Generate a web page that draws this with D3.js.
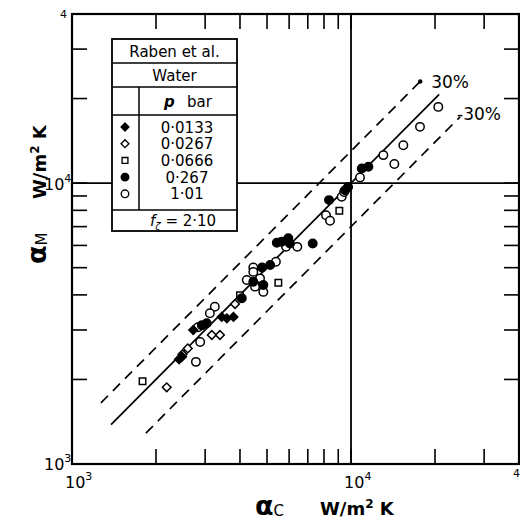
<!DOCTYPE html>
<html>
  <head>
    <meta charset='utf-8' />
    <script src="https://d3js.org/d3.v7.min.js"></script>
    <style>
    body { margin: 0; background: #fff; }
    text { font-family: "DejaVu Sans", sans-serif; fill: #000; }
    </style>
  </head>
  <body>
    <div id="chart"></div>
    <script>
// legend rows (pressure, bar)
var pressures = ["0·0133", "0·0267", "0·0666", "0·267", "1·01"];

// alpha_C / alpha_M, W/m2K
var cDiamondFilled = [3440, 3590, 3790, 2420, 2480, 2720];
var mDiamondFilled = [3340, 3300, 3340, 2360, 2410, 3000];

var cDiamondOpen = [2185, 2490, 2600, 3170, 3390, 3840];
var mDiamondOpen = [1875, 2460, 2580, 2880, 2880, 3710];

var cSquareOpen = [1790, 5490, 9080, 4000];
var mSquareOpen = [1970, 4420, 7970, 3990];

var cCircleFilled = [10930, 11540, 9520, 9760, 8340, 7290, 5420, 5640, 5960, 6040, 4800, 5130, 4465, 4850, 2920, 3040, 4060];
var mCircleFilled = [11280, 11430, 9440, 9680, 8700, 6100, 6130, 6180, 6360, 6100, 5010, 5110, 4455, 4335, 3120, 3170, 3890];

var cCircleOpen = [20550, 17670, 15400, 13060, 14300, 10770, 9260, 9440, 8135, 8410, 5850, 6420, 5380, 4465, 4465, 4230, 4720, 4530, 4850, 3250, 3120, 2830, 2880, 2780];
var mCircleOpen = [18680, 15860, 13650, 12580, 11690, 10480, 8940, 9290, 7690, 7340, 5930, 5930, 5250, 5010, 4830, 4520, 4580, 4280, 4100, 3630, 3440, 3070, 2720, 2310];

// reference lines alpha_M = f * alpha_C
var bandFactor = [1.3, 1, 0.7];
var bandFrom = [1270, 1380, 1840];
var bandTo = [17700, 20700, 24600];
var bandText = ["30%", "", "-30%"];

var axisDomain = [1e3, 4e4];

var width = 520, height = 523;
var svg = d3.select("#chart").append("svg")
    .attr("width", width).attr("height", height);

var x = d3.scaleLog().domain(axisDomain).range([72, 519]);
var y = d3.scaleLog().domain(axisDomain).range([464, 14]);

var ticks = x.ticks().filter(function(d) { return d > axisDomain[0] && d < axisDomain[1]; });

// 10^4 cross lines
svg.append("line").attr("x1", x(1e3)).attr("x2", x(4e4))
  .attr("y1", y(1e4)).attr("y2", y(1e4))
  .attr("stroke", "#000").attr("stroke-width", 1.8);
svg.append("line").attr("x1", x(1e4)).attr("x2", x(1e4))
  .attr("y1", y(1e3)).attr("y2", y(4e4))
  .attr("stroke", "#000").attr("stroke-width", 1.8);

// minor ticks on all four sides, pointing in
var tickLen = 15;
var tk = svg.append("g").attr("stroke", "#000").attr("stroke-width", 1.6);
ticks.forEach(function(t) {
  tk.append("line").attr("x1", x(t)).attr("x2", x(t)).attr("y1", y(1e3)).attr("y2", y(1e3) - tickLen);
  tk.append("line").attr("x1", x(t)).attr("x2", x(t)).attr("y1", y(4e4)).attr("y2", y(4e4) + tickLen);
  tk.append("line").attr("y1", y(t)).attr("y2", y(t)).attr("x1", x(1e3)).attr("x2", x(1e3) + tickLen);
  tk.append("line").attr("y1", y(t)).attr("y2", y(t)).attr("x1", x(4e4)).attr("x2", x(4e4) - tickLen);
});

// frame
svg.append("rect")
  .attr("x", x(1e3)).attr("y", y(4e4))
  .attr("width", x(4e4) - x(1e3)).attr("height", y(1e3) - y(4e4))
  .attr("fill", "none").attr("stroke", "#000").attr("stroke-width", 2.2);

// reference lines
var line = d3.line().x(function(d) { return x(d[0]); }).y(function(d) { return y(d[1]); });
bandFactor.forEach(function(f, i) {
  svg.append("path")
    .attr("d", line([[bandFrom[i], bandFrom[i] * f], [bandTo[i], bandTo[i] * f]]))
    .attr("fill", "none").attr("stroke", "#000").attr("stroke-width", 1.7)
    .attr("stroke-dasharray", f === 1 ? null : "10,7");
});
svg.append("circle").attr("cx", x(bandTo[0])).attr("cy", y(bandTo[0] * bandFactor[0]))
  .attr("r", 2.2).attr("fill", "#000");
svg.append("text").attr("x", x(bandTo[0]) + 11).attr("y", y(bandTo[0] * bandFactor[0]) + 7)
  .style("font-size", "17px").text(bandText[0]);
svg.append("text").attr("x", x(bandTo[2]) - 3).attr("y", y(bandTo[2] * bandFactor[2]) + 3)
  .style("font-size", "17px").text(bandText[2]);

// markers
var diamond = d3.symbol().type(d3.symbolSquare).size(38)();
var square = d3.symbol().type(d3.symbolSquare).size(42)();
var circle = d3.symbol().type(d3.symbolCircle).size(56)();
var styles = [
  {path: diamond, rot: 45, fill: "#000"},
  {path: diamond, rot: 45, fill: "#fff"},
  {path: square, rot: 0, fill: "#fff"},
  {path: circle, rot: 0, fill: "#000"},
  {path: circle, rot: 0, fill: "#fff"}
];
var seriesC = [cDiamondFilled, cDiamondOpen, cSquareOpen, cCircleFilled, cCircleOpen];
var seriesM = [mDiamondFilled, mDiamondOpen, mSquareOpen, mCircleFilled, mCircleOpen];

var pts = svg.append("g");
[4, 2, 1, 3, 0].forEach(function(s) {
  var st = styles[s];
  pts.selectAll(null).data(d3.zip(seriesC[s], seriesM[s])).enter()
    .append("path")
      .attr("d", st.path)
      .attr("transform", function(d) {
        return "translate(" + x(d[0]) + "," + y(d[1]) + ") rotate(" + st.rot + ")";
      })
      .attr("fill", st.fill).attr("stroke", "#000").attr("stroke-width", 1.5);
});

// legend table
var lg = svg.append("g").attr("transform", "translate(112,39)");
var lw = 125, lh = 192;
lg.append("rect").attr("width", lw).attr("height", lh)
  .attr("fill", "#fff").attr("stroke", "#000").attr("stroke-width", 1.8);
[24, 48, 76, 171].forEach(function(yy) {
  lg.append("line").attr("x1", 0).attr("x2", lw).attr("y1", yy).attr("y2", yy)
    .attr("stroke", "#000").attr("stroke-width", 1.5);
});
lg.append("line").attr("x1", 27).attr("x2", 27).attr("y1", 48).attr("y2", 171)
  .attr("stroke", "#000").attr("stroke-width", 1.5);
lg.append("text").attr("x", lw / 2).attr("y", 18).attr("text-anchor", "middle")
  .style("font-size", "15px").text("Raben et al.");
lg.append("text").attr("x", lw / 2).attr("y", 42).attr("text-anchor", "middle")
  .style("font-size", "15px").text("Water");
var ph = lg.append("text").attr("x", 76).attr("y", 68).attr("text-anchor", "middle")
  .style("font-size", "15px");
ph.append("tspan").style("font-style", "italic").style("font-weight", "bold").text("p");
ph.append("tspan").text("\u2002 bar");
pressures.forEach(function(p, i) {
  var yy = 88 + i * 16.7;
  var st = styles[i];
  lg.append("path").attr("d", st.path)
    .attr("transform", "translate(13," + yy + ") rotate(" + st.rot + ") scale(0.9)")
    .attr("fill", st.fill).attr("stroke", "#000").attr("stroke-width", 1.5);
  lg.append("text").attr("x", 75).attr("y", yy + 5.5).attr("text-anchor", "middle")
    .style("font-size", "15px").text(p);
});
var ft = lg.append("text").attr("x", 71).attr("y", 187).attr("text-anchor", "middle")
  .style("font-size", "15px");
ft.append("tspan").style("font-style", "italic").text("f");
ft.append("tspan").attr("dy", 4).style("font-size", "10px").style("font-style", "italic").text("ζ");
ft.append("tspan").attr("dy", -4).text(" = 2·10");

// tick labels
function powLabel(px, py, base, sup) {
  var t = svg.append("text").attr("x", px).attr("y", py).style("font-size", "16px");
  t.append("tspan").text(base);
  t.append("tspan").attr("dy", -8).style("font-size", "11px").text(sup);
}
powLabel(x(1e3) - 7, 488, "10", "3");
powLabel(x(1e4) - 7, 488, "10", "4");
powLabel(44, y(1e3) + 6, "10", "3");
powLabel(44, y(1e4) + 7, "10", "4");
svg.append("text").attr("x", 60).attr("y", y(4e4) + 4).style("font-size", "11px").text("4");
svg.append("text").attr("x", 513).attr("y", 477).style("font-size", "11px").text("4");

// axis titles: alpha, subscript, then units placed 65px further along
function axisTitle(g, sub) {
  g.append("tspan").attr("x", 0).style("font-size", "27px").style("font-weight", "bold").text("α");
  g.append("tspan").attr("dy", 1).style("font-size", "15px").text(sub);
  g.append("tspan").attr("x", 65).attr("dy", -1).style("font-size", "18px").style("font-weight", "bold").text("W/m");
  g.append("tspan").attr("dy", -7).style("font-size", "12px").style("font-weight", "bold").text("2");
  g.append("tspan").attr("dy", 7).style("font-size", "18px").style("font-weight", "bold").text(" K");
}
axisTitle(svg.append("text").attr("transform", "translate(255,515)"), "C");
axisTitle(svg.append("text").attr("transform", "translate(46,264) rotate(-90)"), "M");
    </script>
</body>
</html>
